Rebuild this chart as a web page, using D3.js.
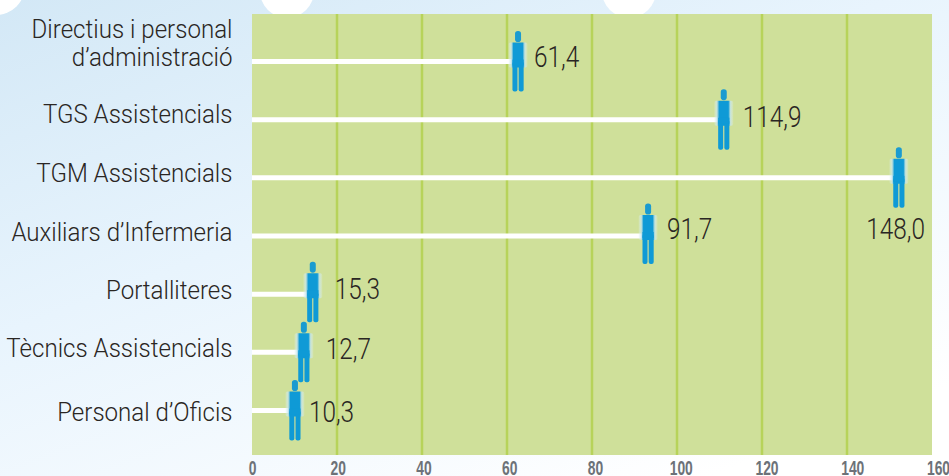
<!DOCTYPE html>
<html>
<head>
<meta charset="utf-8">
<script src="https://d3js.org/d3.v7.min.js"></script>
<style>
html, body { margin: 0; padding: 0; background: #fff; overflow: hidden; }
svg { display: block; }
.cat { font-family: Roboto, sans-serif; font-weight: 300; font-size: 25.5px; fill: #2a2623; }
.val { font-family: Roboto, sans-serif; font-weight: 300; font-size: 29px; fill: #2a2623; }
.tick text { font-family: "Liberation Sans", sans-serif; font-weight: 700; font-size: 21px; fill: #6d7278; }
</style>
</head>
<body>
<svg width="949" height="476"></svg>
<script>
var categories = [["Directius i personal", "d\u2019administració"], ["TGS Assistencials"], ["TGM Assistencials"], ["Auxiliars d\u2019Infermeria"], ["Portalliteres"], ["Tècnics Assistencials"], ["Personal d\u2019Oficis"]];
// the printed numbers
var valueLabels = ["61,4", "114,9", "148,0", "91,7", "15,3", "12,7", "10,3"];
// where each figure actually stands against the axis (not quite the printed number)
var figureValues = [62.6, 111, 152.2, 93.2, 14.3, 12.2, 10.1];
var xTicks = [0, 20, 40, 60, 80, 100, 120, 140, 160];

// hand placed offsets, the original labels are not on a regular grid
var valDx = [16, 19, 0, 19, 22, 22, 14];
var valDy = [5, 7, 61, 3, 5, 7, 11];
var catDy = [4, 3.5, 4, 4.5, 4.5, 4.5, 10.5];
var figDy = [0, 0, 0, -2, -2, 0, 0];

var svg = d3.select("svg");

var x = d3.scaleLinear().domain([0, 160]).range([252, 932]);
// tick labels drift to the right of their gridlines in the original
var xLabels = d3.scaleLinear().domain([0, 160]).range([252, 938]);
var y = d3.scalePoint().domain(d3.range(categories.length)).range([61.5, 410.5]);

//background
var defs = svg.append("defs");
var bg = defs.append("linearGradient").attr("id", "bg")
	.attr("x1", 0).attr("y1", 0).attr("x2", 0.75).attr("y2", 1);
bg.append("stop").attr("offset", "0").attr("stop-color", "#d3e8f6");
bg.append("stop").attr("offset", "0.45").attr("stop-color", "#e8f4fd");
bg.append("stop").attr("offset", "1").attr("stop-color", "#ffffff");

//torso and arms fade out sideways
var armFade = defs.append("linearGradient").attr("id", "armFade");
armFade.append("stop").attr("offset", "0").attr("stop-color", "#dff0ee").attr("stop-opacity", 0.2);
armFade.append("stop").attr("offset", "0.14").attr("stop-color", "#c8e6ec").attr("stop-opacity", 0.8);
armFade.append("stop").attr("offset", "0.26").attr("stop-color", "#0f9ad6");
armFade.append("stop").attr("offset", "0.74").attr("stop-color", "#0f9ad6");
armFade.append("stop").attr("offset", "0.86").attr("stop-color", "#c8e6ec").attr("stop-opacity", 0.8);
armFade.append("stop").attr("offset", "1").attr("stop-color", "#dff0ee").attr("stop-opacity", 0.2);

svg.append("rect").attr("width", 949).attr("height", 476).attr("fill", "url(#bg)");

//white blobs along the top edge
svg.selectAll("circle.blob")
	.data([[-4, -14, 29], [287, -9, 27], [629, -9, 27]])
	.enter().append("circle")
	.attr("class", "blob")
	.attr("cx", function (d) { return d[0]; })
	.attr("cy", function (d) { return d[1]; })
	.attr("r", function (d) { return d[2]; })
	.attr("fill", "#fff");

//plot area
svg.append("rect")
	.attr("x", x(0)).attr("y", 14)
	.attr("width", x(160) - x(0)).attr("height", 441)
	.attr("fill", "#cfe09a");

//gridlines
svg.selectAll("line.grid")
	.data(xTicks.slice(1, -1))
	.enter().append("line")
	.attr("class", "grid")
	.attr("x1", function (d) { return x(d); })
	.attr("x2", function (d) { return x(d); })
	.attr("y1", 14).attr("y2", 455)
	.attr("stroke", "#b7d35a")
	.attr("stroke-width", 2.5);

//axis
var axis = svg.append("g")
	.attr("transform", "translate(0,455)")
	.call(d3.axisBottom(xLabels).tickValues(xTicks).tickSize(0).tickPadding(0));
axis.select(".domain").remove();
axis.selectAll("text")
	.attr("y", 20.5)
	.attr("dy", 0)
	.attr("transform", "scale(0.66,1)");

//bars
svg.selectAll("line.bar")
	.data(figureValues)
	.enter().append("line")
	.attr("class", "bar")
	.attr("x1", x(0))
	.attr("x2", function (d) { return x(d); })
	.attr("y1", function (d, i) { return y(i); })
	.attr("y2", function (d, i) { return y(i); })
	.attr("stroke", "#fff")
	.attr("stroke-width", 5);

//person icon, origin at the middle of the figure on the bar line
var figure = svg.selectAll("g.figure")
	.data(figureValues)
	.enter().append("g")
	.attr("class", "figure")
	.attr("transform", function (d, i) { return "translate(" + x(d) + "," + (y(i) + figDy[i]) + ")"; });

figure.append("rect")
	.attr("x", -3).attr("y", -30.5)
	.attr("width", 6).attr("height", 11)
	.attr("rx", 2.8)
	.attr("fill", "#1a9bd0");

figure.append("rect")
	.attr("x", -9.5).attr("y", -19)
	.attr("width", 19).attr("height", 25)
	.attr("rx", 2)
	.attr("fill", "url(#armFade)");

//legs
figure.selectAll("rect.leg")
	.data([-5.6, 0.6])
	.enter().append("rect")
	.attr("class", "leg")
	.attr("x", function (d) { return d; })
	.attr("y", 0)
	.attr("width", 5)
	.attr("height", 30)
	.attr("rx", 2)
	.attr("fill", "#0f9ad6");

figure.append("rect")
	.attr("x", -5.6).attr("y", -2)
	.attr("width", 11.2).attr("height", 6)
	.attr("fill", "#0f9ad6");

//value labels, 148,0 sits below its figure
svg.selectAll("text.val")
	.data(valueLabels)
	.enter().append("text")
	.attr("class", "val")
	.attr("text-anchor", function (d, i) { return i == 2 ? "end" : "start"; })
	.attr("transform", function (d, i) {
		var tx = i == 2 ? 925 : x(figureValues[i]) + valDx[i];
		return "translate(" + tx + "," + (y(i) + valDy[i]) + ") scale(0.84,1)";
	})
	.text(function (d) { return d; });

//category labels
var cat = svg.selectAll("text.cat")
	.data(categories)
	.enter().append("text")
	.attr("class", "cat")
	.attr("text-anchor", "end")
	.attr("transform", function (d, i) { return "translate(232.5," + (y(i) + catDy[i]) + ") scale(0.945,1)"; });

cat.selectAll("tspan")
	.data(function (d) { return d; })
	.enter().append("tspan")
	.attr("x", 0)
	.attr("dy", function (d, i, n) { return i == 0 ? (n.length > 1 ? -27.5 : 0) : 27.5; })
	.text(function (d) { return d; });
</script>
</body>
</html>
